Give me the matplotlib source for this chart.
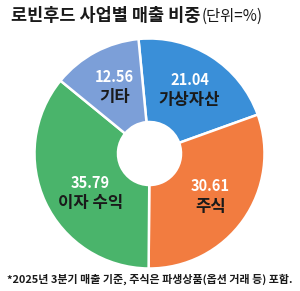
import numpy as np
import matplotlib
matplotlib.use("Agg")
import matplotlib.pyplot as plt

plt.rcParams['font.family'] = ['Noto Sans CJK KR', 'DejaVu Sans']

# Data (clockwise from the top)
CATEGORIES = ['가상자산', '주식', '이자 수익', '기타']
SHARES = [21.04, 30.61, 35.79, 12.56]
COLORS = ['#3a8fd8', '#f27c40', '#4ab46b', '#7c9fd8']

TITLE_MAIN = '로빈후드 사업별 매출 비중'
TITLE_UNIT = '(단위=%)'
FOOTNOTE = '*2025년 3분기 매출 기준, 주식은 파생상품(옵션 거래 등) 포함.'

W, H = 300, 291
START_ANGLE = 95.5
HOLE = 0.274
LABEL_R = 0.65
# small hand tweaks to label placement (degrees, radius) per slice
LABEL_TWEAK = {'이자 수익': (9, -0.03)}


def main():
    fig = plt.figure(figsize=(W / 100, H / 100), dpi=100)
    fig.patch.set_facecolor('white')

    # pie centred at (149.5, 153.5) px, radius 115 px
    cx, cy, r = 149.5, 153.5, 115
    ax = fig.add_axes([(cx - r) / W, (H - cy - r) / H, 2 * r / W, 2 * r / H])
    wedges, _ = ax.pie(SHARES, colors=COLORS, startangle=START_ANGLE,
                       counterclock=False, radius=1,
                       wedgeprops=dict(width=1 - HOLE, edgecolor='white', linewidth=1.8))
    ax.set_xlim(-1, 1)
    ax.set_ylim(-1, 1)
    ax.axis('off')

    for w, name, val in zip(wedges, CATEGORIES, SHARES):
        dang, dr = LABEL_TWEAK.get(name, (0, 0))
        mid = np.deg2rad((w.theta1 + w.theta2) / 2 + dang)
        x, y = (LABEL_R + dr) * np.cos(mid), (LABEL_R + dr) * np.sin(mid)
        ax.text(x, y + 0.09, f'{val:.2f}', ha='center', va='center',
                color='white', fontsize=10.5, fontweight='bold')
        ax.text(x, y - 0.085, name, ha='center', va='center',
                color='#1a1a1a', fontsize=12, fontweight='bold')

    # title: bold part then the unit in regular weight
    t = fig.text(11 / W, 1 - 16 / H, TITLE_MAIN, ha='left', va='center',
                 fontsize=12.6, fontweight='black', color='#1a1a1a')
    fig.canvas.draw()
    bb = t.get_window_extent()
    fig.text(bb.x1 / W + 1 / W, 1 - 16 / H, TITLE_UNIT, ha='left', va='center',
             fontsize=11, color='#1a1a1a')

    fig.text(0.5, 1 - 279 / H, FOOTNOTE, ha='center', va='center',
             fontsize=7.9, fontweight='bold', color='#1a1a1a')

    fig.savefig('out.png', dpi=100, facecolor='white')


if __name__ == "__main__":
    main()
